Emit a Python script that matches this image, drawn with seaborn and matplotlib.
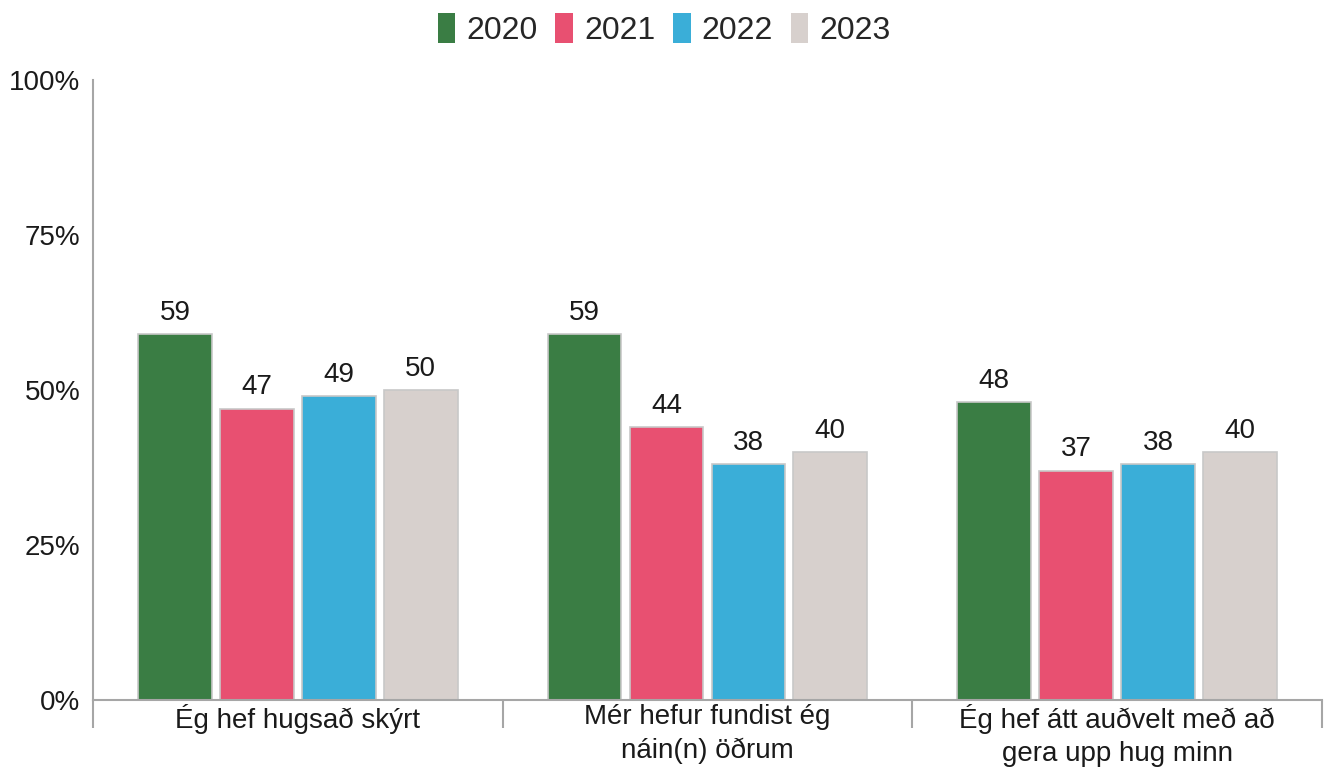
import matplotlib
matplotlib.use("Agg")
import matplotlib.pyplot as plt
import pandas as pd
import seaborn as sns
from matplotlib.ticker import FixedLocator, PercentFormatter

categories = [
    "Ég hef hugsað skýrt",
    "Mér hefur fundist ég\nnáin(n) öðrum",
    "Ég hef átt auðvelt með að\ngera upp hug minn",
]
years = ["2020", "2021", "2022", "2023"]
values_2020 = [59, 59, 48]
values_2021 = [47, 44, 37]
values_2022 = [49, 38, 38]
values_2023 = [50, 40, 40]
colors = ["#3a7d44", "#e85071", "#3aaed8", "#d7d0cd"]

rows = []
for year, vals in zip(years, [values_2020, values_2021, values_2022, values_2023]):
    for cat, v in zip(categories, vals):
        rows.append({"category": cat, "year": year, "value": v})
df = pd.DataFrame(rows)

sns.set_style("white")
plt.rcParams["font.family"] = ["Liberation Sans", "DejaVu Sans"]

fig = plt.figure(figsize=(13.42, 7.69), dpi=100)
ax = fig.add_axes([0.0693, 0.0897, 0.9157, 0.8063])

sns.barplot(
    data=df,
    x="category",
    y="value",
    hue="year",
    palette=colors,
    saturation=1,
    width=0.8,
    gap=0.1,
    edgecolor="#c8c8c8",
    linewidth=1.2,
    ax=ax,
)

for cont in ax.containers:
    ax.bar_label(cont, fmt="%d", padding=6, fontsize=20, color="#1a1a1a")

ax.set_xlim(-0.5, 2.5)
ax.set_ylim(0, 100)
ax.set_yticks([0, 25, 50, 75, 100])
ax.yaxis.set_major_formatter(PercentFormatter(decimals=0))
ax.tick_params(axis="y", length=0, labelsize=20, pad=9, labelcolor="#1a1a1a")
ax.tick_params(axis="x", which="major", length=0, labelsize=20, pad=3, labelcolor="#1a1a1a")
ax.xaxis.set_minor_locator(FixedLocator([-0.5, 0.5, 1.5, 2.5]))
ax.tick_params(axis="x", which="minor", bottom=True, length=20, width=1.5, color="#a6a6a6")
for lbl in ax.get_xticklabels():
    lbl.set_linespacing(1.35)
ax.set_xlabel("")
ax.set_ylabel("")

for side in ["top", "right"]:
    ax.spines[side].set_visible(False)
for side in ["left", "bottom"]:
    ax.spines[side].set_color("#a6a6a6")
    ax.spines[side].set_linewidth(1.5)

handles, labels = ax.get_legend_handles_labels()
ax.legend_.remove()
leg = fig.legend(
    handles,
    labels,
    loc="center",
    bbox_to_anchor=(0.495, 0.962),
    ncol=4,
    frameon=False,
    fontsize=23,
    handlelength=0.55,
    handleheight=1.1,
    handletextpad=0.35,
    columnspacing=0.55,
)
for h in leg.legend_handles:
    h.set_edgecolor("none")

fig.savefig("out.png", dpi=100)
